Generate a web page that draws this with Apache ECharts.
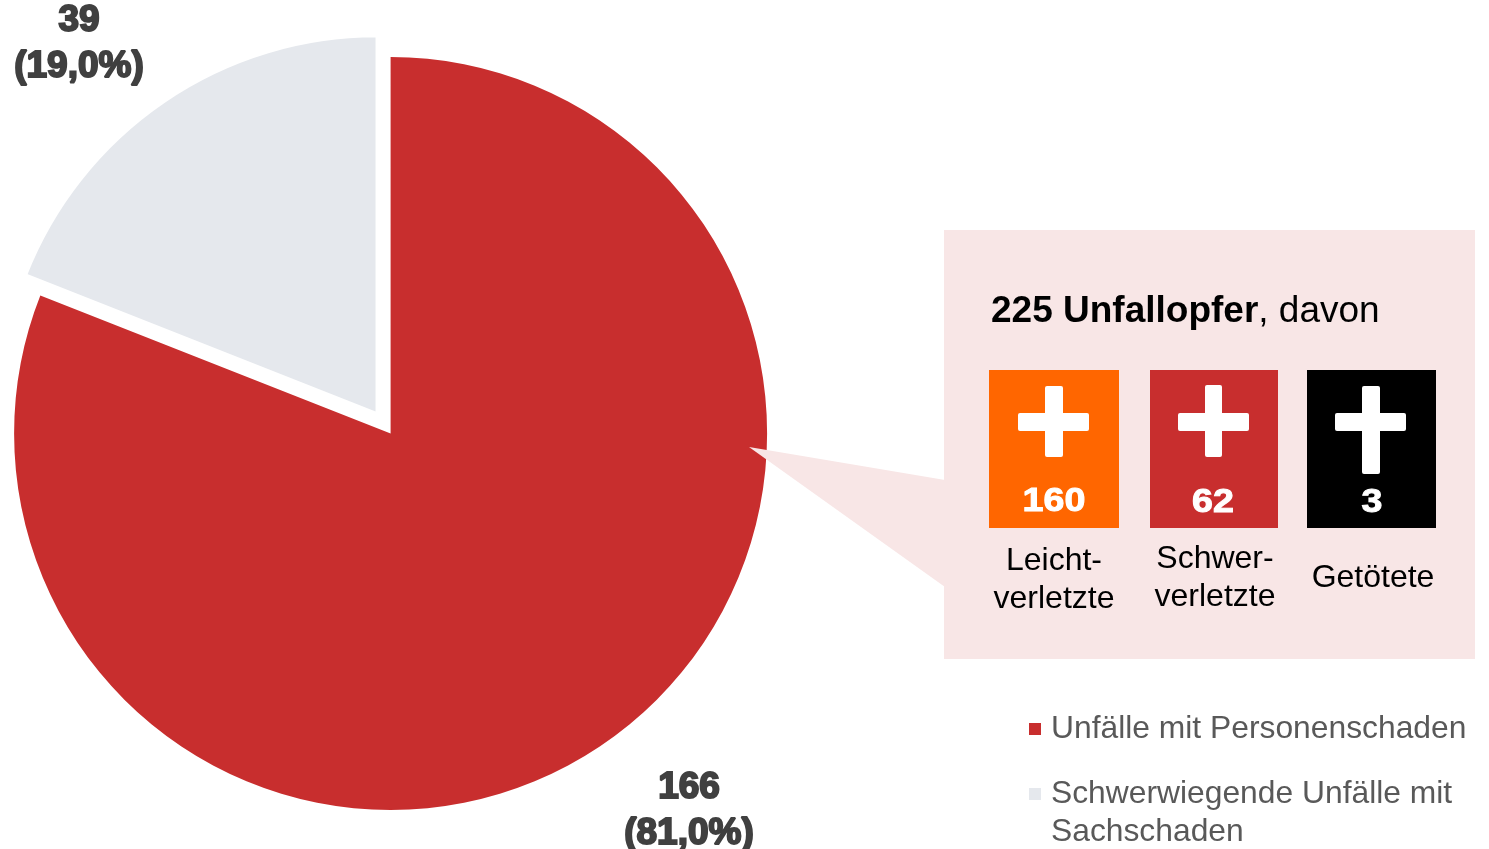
<!DOCTYPE html>
<html>
<head>
<meta charset="utf-8">
<style>
  html, body { margin: 0; padding: 0; background: #fff; }
  #chart { width: 1489px; height: 849px; }
</style>
<script src="https://cdn.jsdelivr.net/npm/echarts@6/dist/echarts.min.js"></script>
</head>
<body>
<div id="chart"></div>
<script>
const sliceNames = ["Unfälle mit Personenschaden", "Schwerwiegende Unfälle mit\nSachschaden"];
const sliceValues = [166, 39];
const slicePercents = ["81,0%", "19,0%"];
const sliceColors = ["#C82E2E", "#E5E8ED"];

const victimLabels = ["Leicht-\nverletzte", "Schwer-\nverletzte", "Getötete"];
const victimValues = [160, 62, 3];
const victimTotal = 225;

const FONT = '"Liberation Sans", Arial, sans-serif';
const PANEL = "#F8E6E6";

// tiles in the callout, one per victim group
const tiles = [
  { x: 989, w: 130, fill: "#FF6600", cx: 1054, numY: 502, labelX: 1054, labelY: 580, v: [1045, 1063, 386, 457], h: [1018, 1089] },
  { x: 1150, w: 128, fill: "#C82E2E", cx: 1213, numY: 503, labelX: 1215, labelY: 578, v: [1205, 1222, 385, 457], h: [1178, 1249] },
  { x: 1307, w: 129, fill: "#000000", cx: 1372, numY: 503, labelX: 1373, labelY: 578, v: [1362, 1380, 386, 474], h: [1335, 1406] },
];

const graphics = [
  { type: "polygon", z: 5, shape: { points: [[749, 447], [945, 480], [945, 587]] }, style: { fill: PANEL } },
  { type: "rect", z: 5, shape: { x: 944, y: 230, width: 531, height: 429 }, style: { fill: PANEL } },
  {
    type: "text", z: 6, x: 991, y: 312,
    style: {
      text: "{b|" + victimTotal + " Unfallopfer}{n|, davon}",
      verticalAlign: "middle",
      rich: {
        b: { fontFamily: FONT, fontSize: 37, fontWeight: "bold", fill: "#000" },
        n: { fontFamily: FONT, fontSize: 37, fill: "#000" },
      },
    },
  },
];

tiles.forEach((t, i) => {
  graphics.push(
    { type: "rect", z: 6, shape: { x: t.x, y: 370, width: t.w, height: 158 }, style: { fill: t.fill } },
    { type: "rect", z: 7, shape: { x: t.v[0], y: t.v[2], width: t.v[1] - t.v[0], height: t.v[3] - t.v[2], r: 2 }, style: { fill: "#fff" } },
    { type: "rect", z: 7, shape: { x: t.h[0], y: 413, width: t.h[1] - t.h[0], height: 18, r: 2 }, style: { fill: "#fff" } },
    {
      type: "text", z: 7, x: t.cx, y: t.numY, scaleX: 1.14,
      style: {
        text: String(victimValues[i]), fontFamily: FONT, fontSize: 33, fontWeight: "bold",
        fill: "#fff", stroke: "#fff", lineWidth: 1, align: "center", verticalAlign: "middle",
      },
    },
    {
      type: "text", z: 7, x: t.labelX, y: t.labelY,
      style: {
        text: victimLabels[i], fontFamily: FONT, fontSize: 32, lineHeight: 38,
        fill: "#000", align: "center", verticalAlign: "middle",
      },
    }
  );
});

// the select state of a pie label ignores labelLayout, so value labels are placed here
const labelSpots = [{ x: 689, y: 811 }, { x: 79, y: 44 }];
sliceValues.forEach((v, i) => {
  graphics.push({
    type: "text", z: 7, x: labelSpots[i].x, y: labelSpots[i].y,
    style: {
      text: v + "\n(" + slicePercents[i] + ")", fontFamily: FONT, fontSize: 37, fontWeight: "bold", lineHeight: 46,
      fill: "#404040", stroke: "#404040", lineWidth: 2, align: "center", verticalAlign: "middle",
    },
  });
});

const legendText = { fontFamily: FONT, fontSize: 31.8, lineHeight: 38, color: "#595959", padding: [0, 0, 0, 5] };
const legendBase = {
  orient: "vertical", left: 1029, padding: 0, itemWidth: 12, itemHeight: 12, icon: "rect",
  selectedMode: false, itemStyle: { borderWidth: 0 },
};

const chart = echarts.init(document.getElementById("chart"), null, { renderer: "canvas" });
chart.setOption({
  animation: false,
  color: sliceColors,
  legend: [
    { ...legendBase, top: 710, data: [sliceNames[0]], textStyle: legendText },
    // empty first line keeps the marker level with the first line of the wrapped name
    { ...legendBase, top: 737, data: [sliceNames[1]], formatter: (name) => "\n" + name, textStyle: legendText },
  ],
  graphic: graphics,
  series: [
    {
      type: "pie",
      center: [390.6, 433.5],
      radius: [0, 376.5],
      startAngle: 90,
      clockwise: true,
      silent: true,
      selectedMode: "multiple",
      selectedOffset: 25,
      data: sliceNames.map((name, i) => ({
        name,
        value: sliceValues[i],
        selected: i === 1,
        itemStyle: i === 1
          ? { color: sliceColors[i], borderColor: "#fff", borderWidth: 2 }
          : { color: sliceColors[i] },
      })),
      label: { show: false },
      labelLine: { show: false },
    },
  ],
});
</script>
</body>
</html>
